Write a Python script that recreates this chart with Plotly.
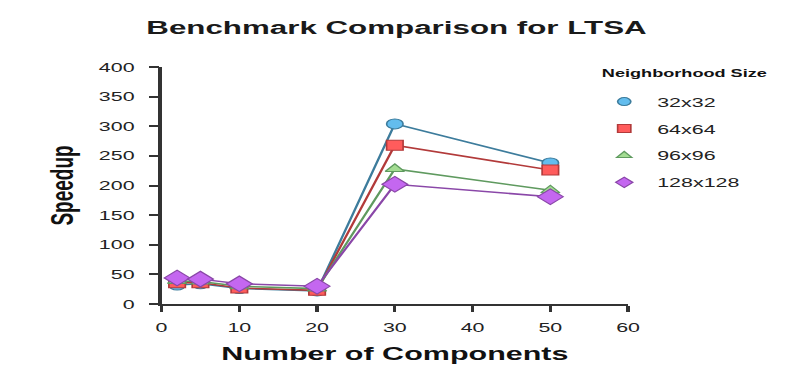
import plotly.graph_objects as go

# data
components = [2, 5, 10, 20, 30, 50]
sizes = ["32x32", "64x64", "96x96", "128x128"]
speedup_32 = [32, 34, 26, 22, 304, 238]
speedup_64 = [36, 36, 27, 23, 268, 226]
speedup_96 = [39, 38, 30, 26, 228, 192]
speedup_128 = [44, 42, 34, 30, 202, 181]

series = [speedup_32, speedup_64, speedup_96, speedup_128]
symbols = ["circle", "square", "triangle-up", "diamond"]
fills = ["#63bdee", "#ff5c5c", "#a3dc92", "#c467f0"]
edges = ["#3d7c9c", "#b23a3a", "#5f9a5f", "#8a47a8"]
marker_sizes = [10, 10, 10, 12]

# the reference is a horizontally stretched render: draw narrow, then stretch
STRETCH = 1.6486
W = 481

fig = go.Figure()

for i, (name, vals, sym, fc, ec, ms) in enumerate(zip(sizes, series, symbols, fills, edges, marker_sizes)):
    fig.add_trace(go.Scatter(
        x=components, y=vals, mode="lines+markers", name=name,
        showlegend=False,
        line=dict(color=ec, width=1.5),
        marker=dict(symbol=sym, size=ms, color=fc, line=dict(color=ec, width=1)),
    ))
    # marker-only entries for the legend
    fig.add_trace(go.Scatter(
        x=[None], y=[None], mode="markers", name=name, legendgroup=str(i),
        marker=dict(symbol=sym, size=8, color=fc, line=dict(color=ec, width=1)),
    ))

# legend title drawn as an annotation so the first entry can sit lower
fig.add_annotation(
    text="Neighborhood Size", xref="paper", yref="paper",
    x=(598 / STRETCH - 98) / (W - 198), y=1 + (67 - 73) / 237,
    xanchor="left", yanchor="middle", showarrow=False,
    font=dict(family="Liberation Sans", size=11, weight=700, color="#111"),
)

fig.update_layout(
    width=W, height=392,
    paper_bgcolor="white", plot_bgcolor="white",
    margin=dict(l=98, r=100, t=67, b=88),
    title=dict(text="Benchmark Comparison for LTSA", x=0.5, xanchor="center",
               y=1 - 27 / 392, yanchor="middle",
               font=dict(family="Liberation Sans", size=19, color="#1a1a1a", weight=700)),
    font=dict(family="Liberation Sans", color="#222"),
    legend=dict(
        x=0.921, y=0.917, xanchor="left", yanchor="top",
        font=dict(family="Liberation Sans", size=13, color="#222"),
        tracegroupgap=7,
    ),
    xaxis=dict(
        range=[0, 60], tickvals=[0, 10, 20, 30, 40, 50, 60],
        showline=True, linecolor="#333", linewidth=2,
        ticks="outside", ticklen=6, tickcolor="#333", tickwidth=1.5,
        showgrid=False, zeroline=False, ticklabelstandoff=4,
        tickfont=dict(family="Liberation Sans", size=13, color="#222"),
        title=dict(text="Number of Components", standoff=13,
                   font=dict(family="Liberation Sans", size=18.5, weight=700, color="#111")),
    ),
    yaxis=dict(
        range=[0, 400], tickvals=[0, 50, 100, 150, 200, 250, 300, 350, 400],
        showline=True, linecolor="#333", linewidth=1.5,
        ticks="outside", ticklen=6, tickcolor="#333", tickwidth=2,
        showgrid=False, zeroline=False, ticklabelstandoff=6,
        tickfont=dict(family="Liberation Sans", size=13, color="#222"),
        title=dict(text="Speedup", standoff=10,
                   font=dict(family="Liberation Sans", size=19, weight=700, color="#111")),
    ),
)

post = (
    "var gd = document.getElementById('{plot_id}');"
    "document.body.style.margin = '0';"
    "document.body.style.overflow = 'hidden';"
    "gd.style.transformOrigin = '0 0';"
    "gd.style.transform = 'scaleX(%s)';" % STRETCH
)

fig.write_html("out.html", post_script=post, config={"displayModeBar": False})
